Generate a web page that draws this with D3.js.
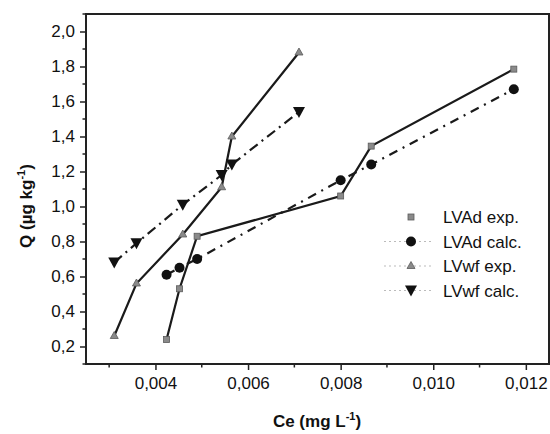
<!DOCTYPE html>
<html>
<head>
<meta charset="utf-8">
<script src="https://cdn.jsdelivr.net/npm/d3@7"></script>
<style>
  body { margin: 0; background: #fff; }
  text { font-family: Arial, "Liberation Sans", sans-serif; fill: #111; }
</style>
</head>
<body>
<svg id="chart" width="550" height="434"></svg>
<script>
// data
const ceLVAd = [0.00424, 0.00452, 0.0049, 0.0080, 0.00866, 0.01174];
const qLVAdExp = [0.24, 0.53, 0.83, 1.06, 1.345, 1.785];
const qLVAdCalc = [0.61, 0.65, 0.70, 1.15, 1.24, 1.67];
const ceLVwf = [0.00311, 0.00359, 0.00459, 0.00543, 0.00565, 0.0071];
const qLVwfExp = [0.26, 0.56, 0.84, 1.11, 1.40, 1.88];
const qLVwfCalc = [0.68, 0.79, 1.01, 1.18, 1.24, 1.54];
const xTicks = [0.004, 0.006, 0.008, 0.010, 0.012];
const yTicks = [0.2, 0.4, 0.6, 0.8, 1.0, 1.2, 1.4, 1.6, 1.8, 2.0];
const seriesNames = ['LVAd exp.', 'LVAd calc.', 'LVwf exp.', 'LVwf calc.'];

const
  svg = d3.select('#chart'),
  margin = {top: 14, right: 1, bottom: 70, left: 86},
  w = 550 - margin.left - margin.right,
  h = 434 - margin.top - margin.bottom,
  g = svg.append('g').attr('transform', `translate(${margin.left},${margin.top})`)
  ;

const x = d3.scaleLinear().domain([0.0025, 0.0125]).range([0, w]);
const y = d3.scaleLinear().domain([0.1, 2.1]).range([h, 0]);

// minor ticks
const xMinor = d3.range(0.003, 0.0125, 0.002);
const yMinor = d3.range(0.1, 2.11, 0.2);
g.selectAll('.xminor').data(xMinor).join('line')
  .attr('x1', d => x(d)).attr('x2', d => x(d))
  .attr('y1', h).attr('y2', h + 3.5)
  .attr('stroke', '#222').attr('stroke-width', 1.5);
g.selectAll('.yminor').data(yMinor).join('line')
  .attr('x1', -3.5).attr('x2', 0)
  .attr('y1', d => y(d)).attr('y2', d => y(d))
  .attr('stroke', '#222').attr('stroke-width', 1.5);

const xAxis = g.append('g')
  .attr('transform', `translate(0,${h})`)
  .call(d3.axisBottom(x).tickValues(xTicks).tickSize(6).tickPadding(7)
    .tickFormat(d => d3.format('.3f')(d).replace('.', ',')));
const yAxis = g.append('g')
  .call(d3.axisLeft(y).tickValues(yTicks).tickSize(6).tickPadding(5)
    .tickFormat(d => d3.format('.1f')(d).replace('.', ',')));
[xAxis, yAxis].forEach(a => {
  a.select('.domain').remove();
  a.selectAll('line').attr('stroke', '#222').attr('stroke-width', 1.5);
  a.selectAll('text').attr('font-size', 17).attr('fill', '#111');
});

// frame
g.append('rect')
  .attr('width', w).attr('height', h)
  .attr('fill', 'none').attr('stroke', '#222').attr('stroke-width', 2);

const line = d3.line().x(d => x(d[0])).y(d => y(d[1]));
const series = [
  {ce: ceLVAd, q: qLVAdExp, dash: null, marker: 'square'},
  {ce: ceLVAd, q: qLVAdCalc, dash: '9,6,2,6', marker: 'circle'},
  {ce: ceLVwf, q: qLVwfExp, dash: null, marker: 'triangle'},
  {ce: ceLVwf, q: qLVwfCalc, dash: '10,5,2,5', marker: 'down'}
];

const drawMarker = (sel, type) => {
  switch (type) {
  case 'square':
    sel.append('rect').attr('x', -3).attr('y', -3).attr('width', 6).attr('height', 6)
      .attr('fill', '#8a8a8a').attr('stroke', '#5a5a5a').attr('stroke-width', 0.8);
    break;
  case 'circle':
    sel.append('circle').attr('r', 5).attr('fill', '#111');
    break;
  case 'triangle':
    sel.append('path').attr('d', 'M0,-4.5L4,2.5L-4,2.5Z')
      .attr('fill', '#8a8a8a').attr('stroke', '#5a5a5a').attr('stroke-width', 0.8);
    break;
  case 'down':
    sel.append('path').attr('d', 'M-6,-5L6,-5L0,6Z').attr('fill', '#111');
    break;
  }
};

series.forEach(s => {
  const pts = s.ce.map((c, i) => [c, s.q[i]]);
  g.append('path').datum(pts)
    .attr('d', line)
    .attr('fill', 'none')
    .attr('stroke', '#1a1a1a')
    .attr('stroke-width', 2.2)
    .attr('stroke-dasharray', s.dash);
  pts.forEach(p => {
    const m = g.append('g').attr('transform', `translate(${x(p[0])},${y(p[1])})`);
    drawMarker(m, s.marker);
  });
});

// legend
const legend = svg.append('g').attr('transform', 'translate(411,217)');
seriesNames.forEach((name, i) => {
  const row = legend.append('g').attr('transform', `translate(0,${i * 24.5})`);
  if (i > 0) {
    row.append('line').attr('x1', -27).attr('x2', 22).attr('y1', 0).attr('y2', 0)
      .attr('stroke', '#bbb').attr('stroke-width', 1).attr('stroke-dasharray', '2,3');
  }
  drawMarker(row, series[i].marker);
  row.append('text').attr('x', 32).attr('y', 6).attr('font-size', 17).text(name);
});

// axis titles
const xt = svg.append('text')
  .attr('x', 317).attr('y', 427)
  .attr('text-anchor', 'middle')
  .attr('font-size', 17).attr('font-weight', 'bold');
xt.append('tspan').text('Ce (mg L');
xt.append('tspan').attr('dy', -7).attr('font-size', 11).text('-1');
xt.append('tspan').attr('dy', 7).text(')');

const yt = svg.append('text')
  .attr('transform', 'translate(32,206) rotate(-90)')
  .attr('text-anchor', 'middle')
  .attr('font-size', 17).attr('font-weight', 'bold');
yt.append('tspan').text('Q (µg kg');
yt.append('tspan').attr('dy', -7).attr('font-size', 11).text('-1');
yt.append('tspan').attr('dy', 7).text(')');
</script>
</body>
</html>
